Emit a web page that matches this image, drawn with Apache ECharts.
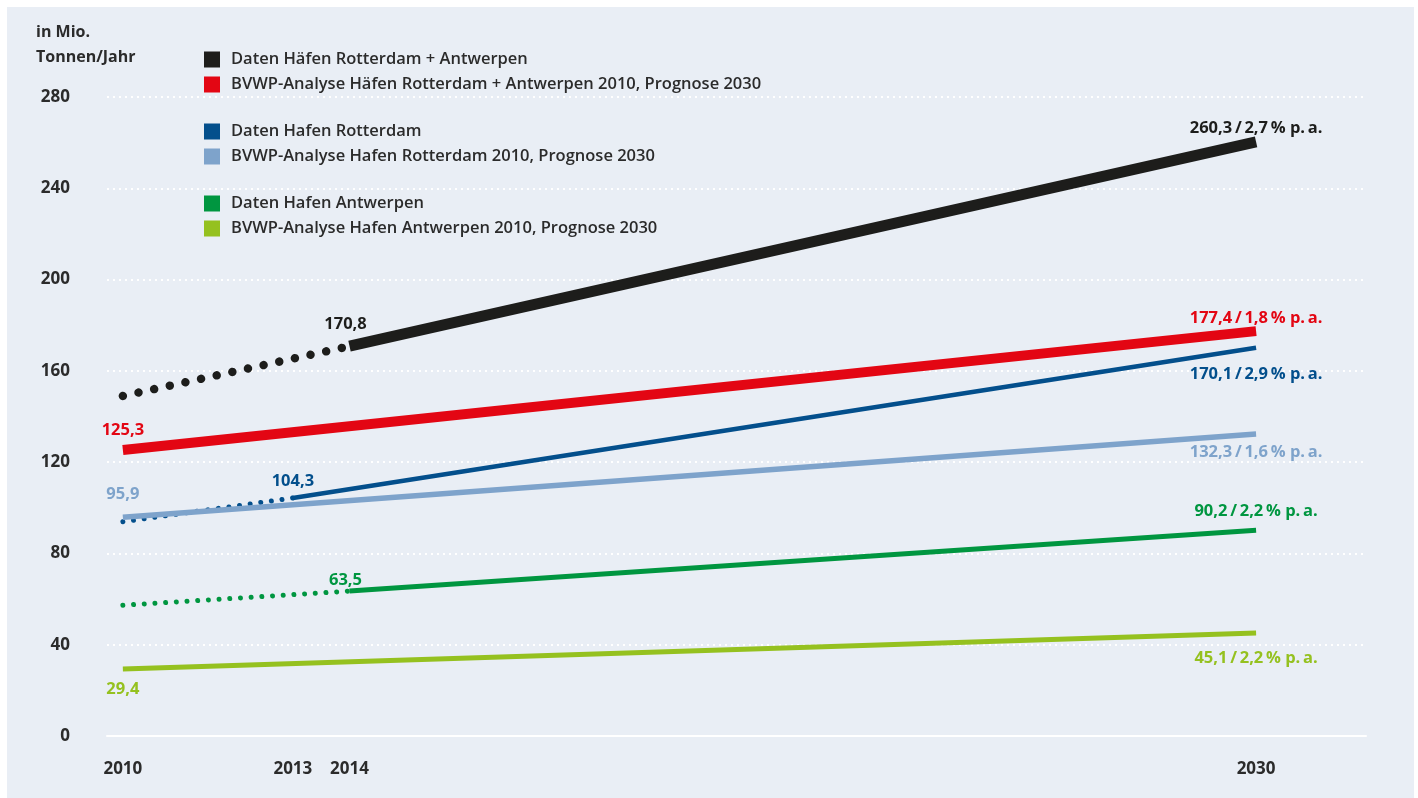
<!DOCTYPE html>
<html><head><meta charset="utf-8">
<script src="https://cdn.jsdelivr.net/npm/echarts@6/dist/echarts.min.js"></script>
<style>
html,body{margin:0;padding:0;background:#fff;width:1418px;height:798px;overflow:hidden}
#bg{position:absolute;left:7px;top:7px;width:1407px;height:791px;background:#e9eef5}
#chart{position:absolute;left:0;top:0;width:1418px;height:798px}
</style></head><body><div id="bg"></div><div id="chart"></div>
<script>
// ---- data ----
const xTickValues = [2010, 2013, 2014, 2030];
const yMin = 0, yMax = 280, yStep = 40;
const unitTitle = 'in Mio.\nTonnen/Jahr';
const legendNames = [
  'Daten Häfen Rotterdam + Antwerpen',
  'BVWP-Analyse Häfen Rotterdam + Antwerpen 2010, Prognose 2030',
  'Daten Hafen Rotterdam',
  'BVWP-Analyse Hafen Rotterdam 2010, Prognose 2030',
  'Daten Hafen Antwerpen',
  'BVWP-Analyse Hafen Antwerpen 2010, Prognose 2030'
];
const totalHist  = [[2010, 149.0], [2014, 170.8]];
const totalTrend = [[2014, 170.8], [2030, 260.3]];
const totalBvwp  = [[2010, 125.3], [2030, 177.4]];
const rotHist    = [[2010, 93.9], [2013, 104.3]];
const rotTrend   = [[2013, 104.3], [2030, 170.1]];
const rotBvwp    = [[2010, 95.9], [2030, 132.3]];
const antHist    = [[2010, 57.3], [2014, 63.5]];
const antTrend   = [[2014, 63.5], [2030, 90.2]];
const antBvwp    = [[2010, 29.4], [2030, 45.1]];
const rateTotalTrend = 2.7, rateTotalBvwp = 1.8;
const rateRotTrend = 2.9, rateRotBvwp = 1.6;
const rateAntTrend = 2.2, rateAntBvwp = 2.2;

// ---- styling ----
const C = {
  black: '#1d1d1b', red: '#e30613', blue: '#034f8c', lblue: '#7ea3cb',
  green: '#009640', lime: '#95c11f', text: '#2b2b2b'
};
const FONT = '"Open Sans", "Noto Sans", sans-serif';
const fmt = v => v.toFixed(1).replace('.', ',');
const T = '\u2009';
const rateText = (v, r) => fmt(v) + T + '/' + T + fmt(r) + T + '%' + ' p.' + T + 'a.';

function lbl(text, color, position, distance, dx) {
  return { show: true, formatter: text, position: position, distance: distance,
    offset: [dx || 0, 0], color: color, fontFamily: FONT, fontWeight: 700, fontSize: 16.5 };
}
function line(name, arr, color, width, dash, labels) {
  return {
    type: 'line', name: name, silent: true, animation: false,
    symbol: 'circle', symbolSize: 0, showSymbol: true,
    itemStyle: { color: color },
    lineStyle: { color: color, width: width, type: dash || 'solid', cap: dash ? 'round' : 'butt' },
    emphasis: { disabled: true },
    data: arr.map((p, i) => ({ value: p, label: labels[i] || { show: false } }))
  };
}

const series = [
  line(legendNames[0], totalHist, C.black, 8.5, [0.01, 16], {1: lbl(fmt(totalHist[1][1]), C.black, 'top', 13, -4)}),
  line(legendNames[0], totalTrend, C.black, 11, null, {1: lbl(rateText(totalTrend[1][1], rateTotalTrend), C.black, 'top', 5, 0)}),
  line(legendNames[1], totalBvwp, C.red, 10, null, {
    0: lbl(fmt(totalBvwp[0][1]), C.red, 'top', 11, 0),
    1: lbl(rateText(totalBvwp[1][1], rateTotalBvwp), C.red, 'top', 4, 0)}),
  line(legendNames[2], rotHist, C.blue, 5, [0.01, 10.7], {}),
  line(legendNames[2], rotTrend, C.blue, 4.5, null, {
    0: lbl(fmt(rotTrend[0][1]), C.blue, 'top', 8, 0),
    1: lbl(rateText(rotTrend[1][1], rateRotTrend), C.blue, 'bottom', 18, 0)}),
  line(legendNames[3], rotBvwp, C.lblue, 5.5, null, {
    0: lbl(fmt(rotBvwp[0][1]), C.lblue, 'top', 14, 0),
    1: lbl(rateText(rotBvwp[1][1], rateRotBvwp), C.lblue, 'bottom', 10, 0)}),
  line(legendNames[4], antHist, C.green, 5, [0.01, 10.7], {}),
  line(legendNames[4], antTrend, C.green, 5, null, {
    0: lbl(fmt(antTrend[0][1]), C.green, 'top', 2, -4),
    1: lbl(rateText(antTrend[1][1], rateAntTrend), C.green, 'top', 10, 0)}),
  line(legendNames[5], antBvwp, C.lime, 5, null, {
    0: lbl(fmt(antBvwp[0][1]), C.lime, 'bottom', 12, 0),
    1: lbl(rateText(antBvwp[1][1], rateAntBvwp), C.lime, 'bottom', 17, 0)})
];

function legend(names, top) {
  return {
    data: names, orient: 'vertical', left: 199, top: top, itemGap: 8,
    itemWidth: 16, itemHeight: 16, icon: 'rect', selectedMode: false,
    textStyle: { color: C.text, fontFamily: FONT, fontWeight: 600, fontSize: 16.5, padding: [0, 0, 0, 6] }
  };
}

const chart = echarts.init(document.getElementById('chart'), null, { renderer: 'canvas' });
chart.setOption({
  backgroundColor: 'transparent',
  animation: false,
  title: {
    text: unitTitle, left: 31, top: 15,
    textStyle: { color: C.text, fontFamily: FONT, fontWeight: 700, fontSize: 16, lineHeight: 25 }
  },
  legend: [
    legend(legendNames.slice(0, 2), 46),
    legend(legendNames.slice(2, 4), 118),
    legend(legendNames.slice(4, 6), 190)
  ],
  grid: { left: 107, right: 52, top: 97, bottom: 62, containLabel: false },
  xAxis: {
    type: 'value', min: 2009.72, max: 2031.94,
    axisLine: { show: true, lineStyle: { color: '#ffffff', width: 2 } },
    axisTick: { show: false },
    splitLine: { show: false },
    axisLabel: {
      customValues: xTickValues, formatter: v => String(v), margin: 25,
      color: C.text, fontFamily: FONT, fontWeight: 700, fontSize: 17
    }
  },
  yAxis: {
    type: 'value', min: yMin, max: yMax, interval: yStep,
    axisLine: { show: false }, axisTick: { show: false },
    splitLine: { show: true, lineStyle: { color: '#ffffff', width: 2, type: [2, 4] } },
    axisLabel: { margin: 37, color: C.text, fontFamily: FONT, fontWeight: 700, fontSize: 17 }
  },
  series: series
});
</script></body></html>
